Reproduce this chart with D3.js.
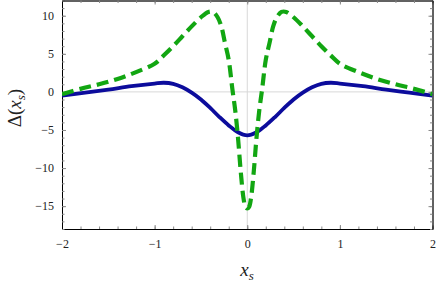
<!DOCTYPE html>
<html>
<head>
<meta charset="utf-8">
<script src="https://cdn.jsdelivr.net/npm/d3@7"></script>
<style>
  body { margin: 0; background: #fff; }
  text { font-family: "Liberation Serif", "DejaVu Serif", serif; }
</style>
</head>
<body>
<div id="chart"></div>
<script>
// values
var xsBlue = [-2, -1.75, -1.5, -1.25, -1, -0.9, -0.8, -0.7, -0.6, -0.5, -0.4, -0.3, -0.2, -0.1, 0,
              0.1, 0.2, 0.3, 0.4, 0.5, 0.6, 0.7, 0.8, 0.9, 1, 1.25, 1.5, 1.75, 2];
var deltaBlue = [-0.5, -0.1, 0.3, 0.75, 1.1, 1.2, 1.05, 0.6, -0.1, -1.0, -2.1, -3.3, -4.4, -5.3, -5.7,
                 -5.3, -4.4, -3.3, -2.1, -1.0, -0.1, 0.6, 1.05, 1.2, 1.1, 0.75, 0.3, -0.1, -0.5];

var xsGreen = [-2, -1.8, -1.6, -1.4, -1.2, -1, -0.9, -0.8, -0.7, -0.6, -0.5, -0.42, -0.37, -0.32, -0.28, -0.24, -0.2, -0.16, -0.13, -0.1, -0.07, -0.04, -0.02, 0,
               0.02, 0.04, 0.07, 0.1, 0.13, 0.16, 0.2, 0.24, 0.28, 0.32, 0.37, 0.42, 0.5, 0.6, 0.7, 0.8, 0.9, 1, 1.2, 1.4, 1.6, 1.8, 2];
var deltaGreen = [-0.3, 0.4, 1.0, 1.7, 2.6, 3.7, 4.8, 6.0, 7.3, 8.6, 9.8, 10.5, 10.5, 9.8, 8.6, 6.4, 4.2, 0.3, -2.4, -6.0, -10.5, -14.0, -15.1, -15.3,
                  -15.1, -14.0, -10.5, -6.0, -2.4, 0.3, 4.2, 6.4, 8.6, 9.8, 10.5, 10.5, 9.8, 8.6, 7.3, 6.0, 4.8, 3.7, 2.6, 1.7, 1.0, 0.4, -0.3];

var xTicks = [-2, -1, 0, 1, 2];
var yTicks = [-15, -10, -5, 0, 5, 10];

var W = 436, H = 284;
var mLeft = 62, mRight = 432.5, mTop = 0.5, mBottom = 229;

var x = d3.scaleLinear().domain([-2, 2]).range([mLeft, mRight]);
var y = d3.scaleLinear().domain([-18, 12]).range([mBottom, mTop]);

var svg = d3.select("#chart").append("svg")
    .attr("width", W)
    .attr("height", H);

// zero grid lines
svg.append("line").attr("x1", x(0)).attr("x2", x(0)).attr("y1", mTop).attr("y2", mBottom)
    .attr("stroke", "#d8d8d8").attr("stroke-width", 1);
svg.append("line").attr("x1", mLeft).attr("x2", mRight).attr("y1", y(0)).attr("y2", y(0))
    .attr("stroke", "#d8d8d8").attr("stroke-width", 1);

var minorX = d3.range(-2, 2.001, 0.2).map(function(d) { return Math.round(d * 10) / 10; });
var minorY = d3.range(-18, 12.001, 1);

function styleAxis(g) {
    g.attr("font-family", "Liberation Serif");
    g.select(".domain").attr("stroke", "#888");
    g.selectAll(".tick line").attr("stroke", "#888");
    g.selectAll("text").attr("fill", "#222").style("font-size", "12px")
        .style("font-family", "'Liberation Serif', serif");
}

function fmt(d) { return d < 0 ? "\u2212" + Math.abs(d) : d; }

// bottom axis
var gb = svg.append("g").attr("transform", "translate(0," + mBottom + ")");
gb.call(d3.axisBottom(x).tickValues(xTicks).tickSizeInner(-4).tickSizeOuter(0).tickPadding(10).tickFormat(fmt));
gb.append("g").call(d3.axisBottom(x).tickValues(minorX).tickSize(-2.5).tickFormat(""));
styleAxis(gb);

// top axis
var gt = svg.append("g").attr("transform", "translate(0," + mTop + ")");
gt.call(d3.axisTop(x).tickValues(xTicks).tickSizeInner(-4).tickSizeOuter(0).tickFormat(""));
gt.append("g").call(d3.axisTop(x).tickValues(minorX).tickSize(-2.5).tickFormat(""));
styleAxis(gt);

// left axis
var gl = svg.append("g").attr("transform", "translate(" + mLeft + ",0)");
gl.call(d3.axisLeft(y).tickValues(yTicks).tickSizeInner(-4).tickSizeOuter(0).tickPadding(8).tickFormat(fmt));
gl.append("g").call(d3.axisLeft(y).tickValues(minorY).tickSize(-2.5).tickFormat(""));
styleAxis(gl);

// right axis
var gr = svg.append("g").attr("transform", "translate(" + mRight + ",0)");
gr.call(d3.axisRight(y).tickValues(yTicks).tickSizeInner(-4).tickSizeOuter(0).tickFormat(""));
gr.append("g").call(d3.axisRight(y).tickValues(minorY).tickSize(-2.5).tickFormat(""));
styleAxis(gr);

var line = d3.line()
    .x(function(d) { return x(d[0]); })
    .y(function(d) { return y(d[1]); })
    .curve(d3.curveCatmullRom.alpha(0.5));

svg.append("clipPath").attr("id", "clip").append("rect")
    .attr("x", mLeft).attr("y", mTop).attr("width", mRight - mLeft).attr("height", mBottom - mTop);

var plot = svg.append("g").attr("clip-path", "url(#clip)");

plot.append("path")
    .datum(d3.zip(xsBlue, deltaBlue))
    .attr("d", line)
    .attr("fill", "none")
    .attr("stroke", "#0c0c9c")
    .attr("stroke-width", 3.8)
    .attr("stroke-linejoin", "round");

plot.append("path")
    .datum(d3.zip(xsGreen, deltaGreen))
    .attr("d", line)
    .attr("fill", "none")
    .attr("stroke", "#12a612")
    .attr("stroke-width", 4.2)
    .attr("stroke-dasharray", "12,6");

// axis labels
var yl = svg.append("text")
    .attr("transform", "translate(21,108) rotate(-90)")
    .attr("text-anchor", "middle")
    .style("font-size", "19px")
    .attr("fill", "#222");
yl.append("tspan").text("\u0394(");
yl.append("tspan").style("font-style", "italic").text("x");
yl.append("tspan").style("font-style", "italic").style("font-size", "13px").attr("dy", 4).text("s");
yl.append("tspan").attr("dy", -4).text(")");

var xl = svg.append("text")
    .attr("x", 247)
    .attr("y", 276)
    .attr("text-anchor", "middle")
    .style("font-size", "19px")
    .attr("fill", "#222");
xl.append("tspan").style("font-style", "italic").text("x");
xl.append("tspan").style("font-style", "italic").style("font-size", "13px").attr("dy", 4).text("s");
</script>
</body>
</html>
